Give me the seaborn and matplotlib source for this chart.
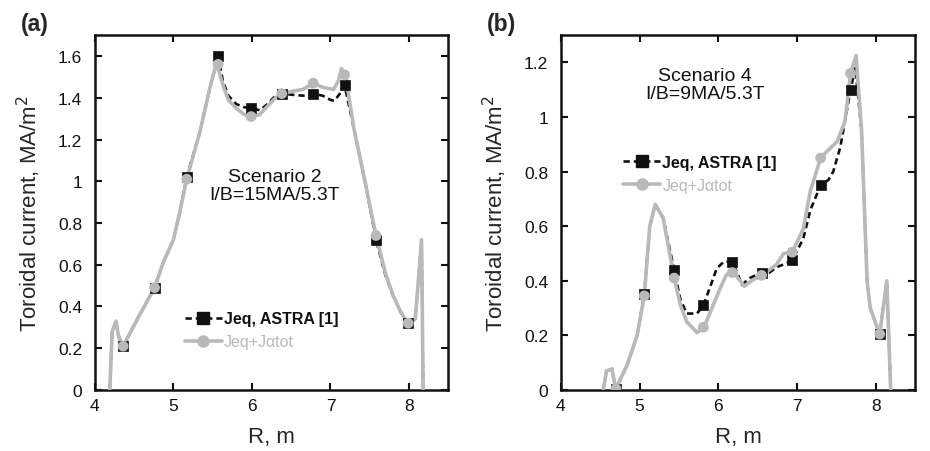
import numpy as np
import matplotlib
matplotlib.use("Agg")
import matplotlib.pyplot as plt
from matplotlib.lines import Line2D
import seaborn as sns

# ---- panel (a): Scenario 2 ----
r_a_eq = [4.19, 4.22, 4.27, 4.30, 4.36, 4.57, 4.76, 4.87, 5.0, 5.08, 5.17, 5.34, 5.46, 5.57, 5.63, 5.7, 5.8,
          5.9, 6.0, 6.1, 6.2, 6.3, 6.38, 6.5, 6.65, 6.78, 6.9, 7.0, 7.05, 7.12, 7.18, 7.3, 7.45, 7.58,
          7.7, 7.8, 7.9, 7.99, 8.08, 8.16, 8.18]
j_a_eq = [0.0, 0.28, 0.33, 0.26, 0.21, 0.36, 0.49, 0.61, 0.72, 0.85, 1.02, 1.24, 1.44, 1.60, 1.48, 1.41, 1.37,
          1.355, 1.35, 1.34, 1.37, 1.41, 1.42, 1.415, 1.41, 1.42, 1.41, 1.39, 1.385, 1.42, 1.46, 1.25, 0.98, 0.72,
          0.55, 0.45, 0.37, 0.32, 0.34, 0.72, 0.0]
r_a_tot = [4.19, 4.22, 4.27, 4.30, 4.36, 4.57, 4.76, 4.87, 5.0, 5.08, 5.17, 5.34, 5.46, 5.55, 5.6, 5.65, 5.7,
           5.8, 5.9, 6.0, 6.1, 6.2, 6.3, 6.38, 6.5, 6.65, 6.78, 6.9, 7.04, 7.1, 7.14, 7.19, 7.3, 7.45,
           7.58, 7.7, 7.8, 7.9, 7.99, 8.08, 8.16, 8.18]
j_a_tot = [0.0, 0.28, 0.33, 0.26, 0.21, 0.36, 0.49, 0.61, 0.72, 0.85, 1.01, 1.24, 1.44, 1.57, 1.50, 1.44, 1.39,
           1.35, 1.32, 1.31, 1.32, 1.36, 1.40, 1.42, 1.43, 1.44, 1.47, 1.45, 1.44, 1.48, 1.54, 1.51, 1.25, 0.98,
           0.74, 0.56, 0.45, 0.37, 0.32, 0.34, 0.72, 0.0]
rm_a = [4.36, 4.76, 5.17, 5.57, 5.99, 6.38, 6.78, 7.18, 7.58, 7.99]
jm_a_eq = [0.21, 0.49, 1.02, 1.60, 1.35, 1.42, 1.42, 1.46, 0.72, 0.32]
jm_a_tot = [0.21, 0.49, 1.01, 1.56, 1.31, 1.42, 1.47, 1.51, 0.74, 0.32]

# ---- panel (b): Scenario 4 ----
r_b_eq = [4.54, 4.58, 4.65, 4.68, 4.70, 4.84, 4.97, 5.06, 5.13, 5.20, 5.30, 5.44, 5.52, 5.60, 5.73, 5.81,
          5.90, 5.98, 6.07, 6.18, 6.24, 6.30, 6.40, 6.55, 6.65, 6.74, 6.83, 6.94, 7.08, 7.17, 7.30, 7.40,
          7.46, 7.55, 7.68, 7.74, 7.82, 7.89, 7.93, 8.05, 8.14, 8.19]
j_b_eq = [0.0, 0.07, 0.077, 0.03, 0.005, 0.09, 0.20, 0.35, 0.60, 0.68, 0.63, 0.44, 0.33, 0.28, 0.28, 0.31,
          0.38, 0.445, 0.47, 0.47, 0.43, 0.385, 0.41, 0.43, 0.43, 0.45, 0.46, 0.475, 0.555, 0.66, 0.75, 0.77,
          0.80, 0.89, 1.10, 1.18, 0.95, 0.40, 0.30, 0.205, 0.40, 0.0]
r_b_tot = [4.54, 4.58, 4.65, 4.68, 4.70, 4.84, 4.97, 5.06, 5.13, 5.20, 5.30, 5.44, 5.52, 5.60, 5.73, 5.82,
           5.92, 6.02, 6.10, 6.17, 6.25, 6.33, 6.42, 6.55, 6.65, 6.74, 6.83, 6.94, 7.08, 7.17, 7.30, 7.40,
           7.51, 7.61, 7.68, 7.75, 7.82, 7.89, 7.93, 8.05, 8.14, 8.19]
j_b_tot = [0.0, 0.07, 0.077, 0.03, 0.005, 0.09, 0.20, 0.345, 0.60, 0.68, 0.63, 0.41, 0.31, 0.25, 0.21, 0.23,
           0.30, 0.37, 0.42, 0.44, 0.41, 0.38, 0.40, 0.42, 0.44, 0.46, 0.50, 0.505, 0.59, 0.73, 0.85, 0.88,
           0.91, 0.985, 1.16, 1.225, 0.95, 0.40, 0.30, 0.205, 0.40, 0.0]
rm_b = [4.70, 5.06, 5.44, 5.81, 6.18, 6.55, 6.94, 7.30, 7.68, 8.05]
jm_b_eq = [0.005, 0.35, 0.44, 0.31, 0.47, 0.43, 0.475, 0.75, 1.10, 0.205]
jm_b_tot = [0.005, 0.345, 0.41, 0.23, 0.43, 0.42, 0.505, 0.85, 1.16, 0.205]

label_eq = "Jeq, ASTRA [1]"
label_tot = "Jeq+J\u03b1tot"

sns.set_style("ticks")
plt.rcParams['font.family'] = ['Liberation Sans', 'DejaVu Sans']

BLACK = "#111111"
GRAY = "#b9b9b9"
DASH = (0, (2.4, 1.5))

fig = plt.figure(figsize=(9.3, 4.52), dpi=100)
ax_a = fig.add_axes([0.102, 0.135, 0.380, 0.785])
ax_b = fig.add_axes([0.603, 0.135, 0.381, 0.785])


def draw_panel(ax, r_eq, j_eq, r_tot, j_tot, rm, jm_eq, jm_tot, ymax, yticks):
    sns.lineplot(x=r_eq, y=j_eq, sort=False, estimator=None, ax=ax, color=BLACK,
                 lw=1.9, linestyle=DASH, zorder=2)
    sns.lineplot(x=r_tot, y=j_tot, sort=False, estimator=None, ax=ax, color=GRAY,
                 lw=2.6, zorder=3)
    sns.scatterplot(x=rm, y=jm_eq, ax=ax, marker='s', s=60, color=BLACK,
                    edgecolor=BLACK, linewidth=0.5, zorder=4)
    sns.scatterplot(x=rm, y=jm_tot, ax=ax, marker='o', s=60, color=GRAY,
                    edgecolor='none', zorder=5)
    ax.set_xlim(4, 8.5)
    ax.set_ylim(0, ymax)
    ax.set_xticks([4, 5, 6, 7, 8])
    ax.set_yticks(yticks)
    ax.set_yticklabels(['%g' % v for v in yticks])
    ax.tick_params(direction='in', length=5, width=1.5, top=True, right=True,
                   labelsize=12.5, colors=BLACK)
    ax.tick_params(axis='y', pad=9)
    ax.tick_params(axis='x', pad=6)
    for sp in ax.spines.values():
        sp.set_linewidth(1.8)
        sp.set_color(BLACK)
        sp.set_visible(True)
    ax.set_xlabel("R, m", fontsize=16, labelpad=9)
    ax.set_ylabel("Toroidal current, MA/m$^2$", fontsize=16, labelpad=11)


def add_legend(ax, anchor):
    h_eq = Line2D([], [], color=BLACK, lw=1.9, linestyle=DASH, marker='s', ms=8)
    h_tot = Line2D([], [], color=GRAY, lw=2.6, marker='o', ms=8)
    leg = ax.legend([h_eq, h_tot], [label_eq, label_tot], loc='upper left',
                    bbox_to_anchor=anchor, frameon=False, fontsize=11.5,
                    handlelength=2.3, handletextpad=0.15, labelspacing=0.5,
                    borderpad=0, borderaxespad=0)
    t_eq, t_tot = leg.get_texts()
    t_eq.set_fontweight('bold')
    t_eq.set_color(BLACK)
    t_tot.set_color(GRAY)


draw_panel(ax_a, r_a_eq, j_a_eq, r_a_tot, j_a_tot, rm_a, jm_a_eq, jm_a_tot,
           1.7, [0, 0.2, 0.4, 0.6, 0.8, 1, 1.2, 1.4, 1.6])
ax_a.text(6.29, 0.98, "Scenario 2\nI/B=15MA/5.3T", ha='center', va='center',
          fontsize=14, color=BLACK, linespacing=1.05)
add_legend(ax_a, (0.255, 0.222))

draw_panel(ax_b, r_b_eq, j_b_eq, r_b_tot, j_b_tot, rm_b, jm_b_eq, jm_b_tot,
           1.3, [0, 0.2, 0.4, 0.6, 0.8, 1, 1.2])
ax_b.text(5.83, 1.12, "Scenario 4\nI/B=9MA/5.3T", ha='center', va='center',
          fontsize=14, color=BLACK, linespacing=1.05)
add_legend(ax_b, (0.176, 0.662))

fig.text(0.022, 0.972, "(a)", fontsize=16.5, fontweight='bold', va='top', ha='left')
fig.text(0.523, 0.972, "(b)", fontsize=16.5, fontweight='bold', va='top', ha='left')

fig.savefig("out.png", dpi=100)
